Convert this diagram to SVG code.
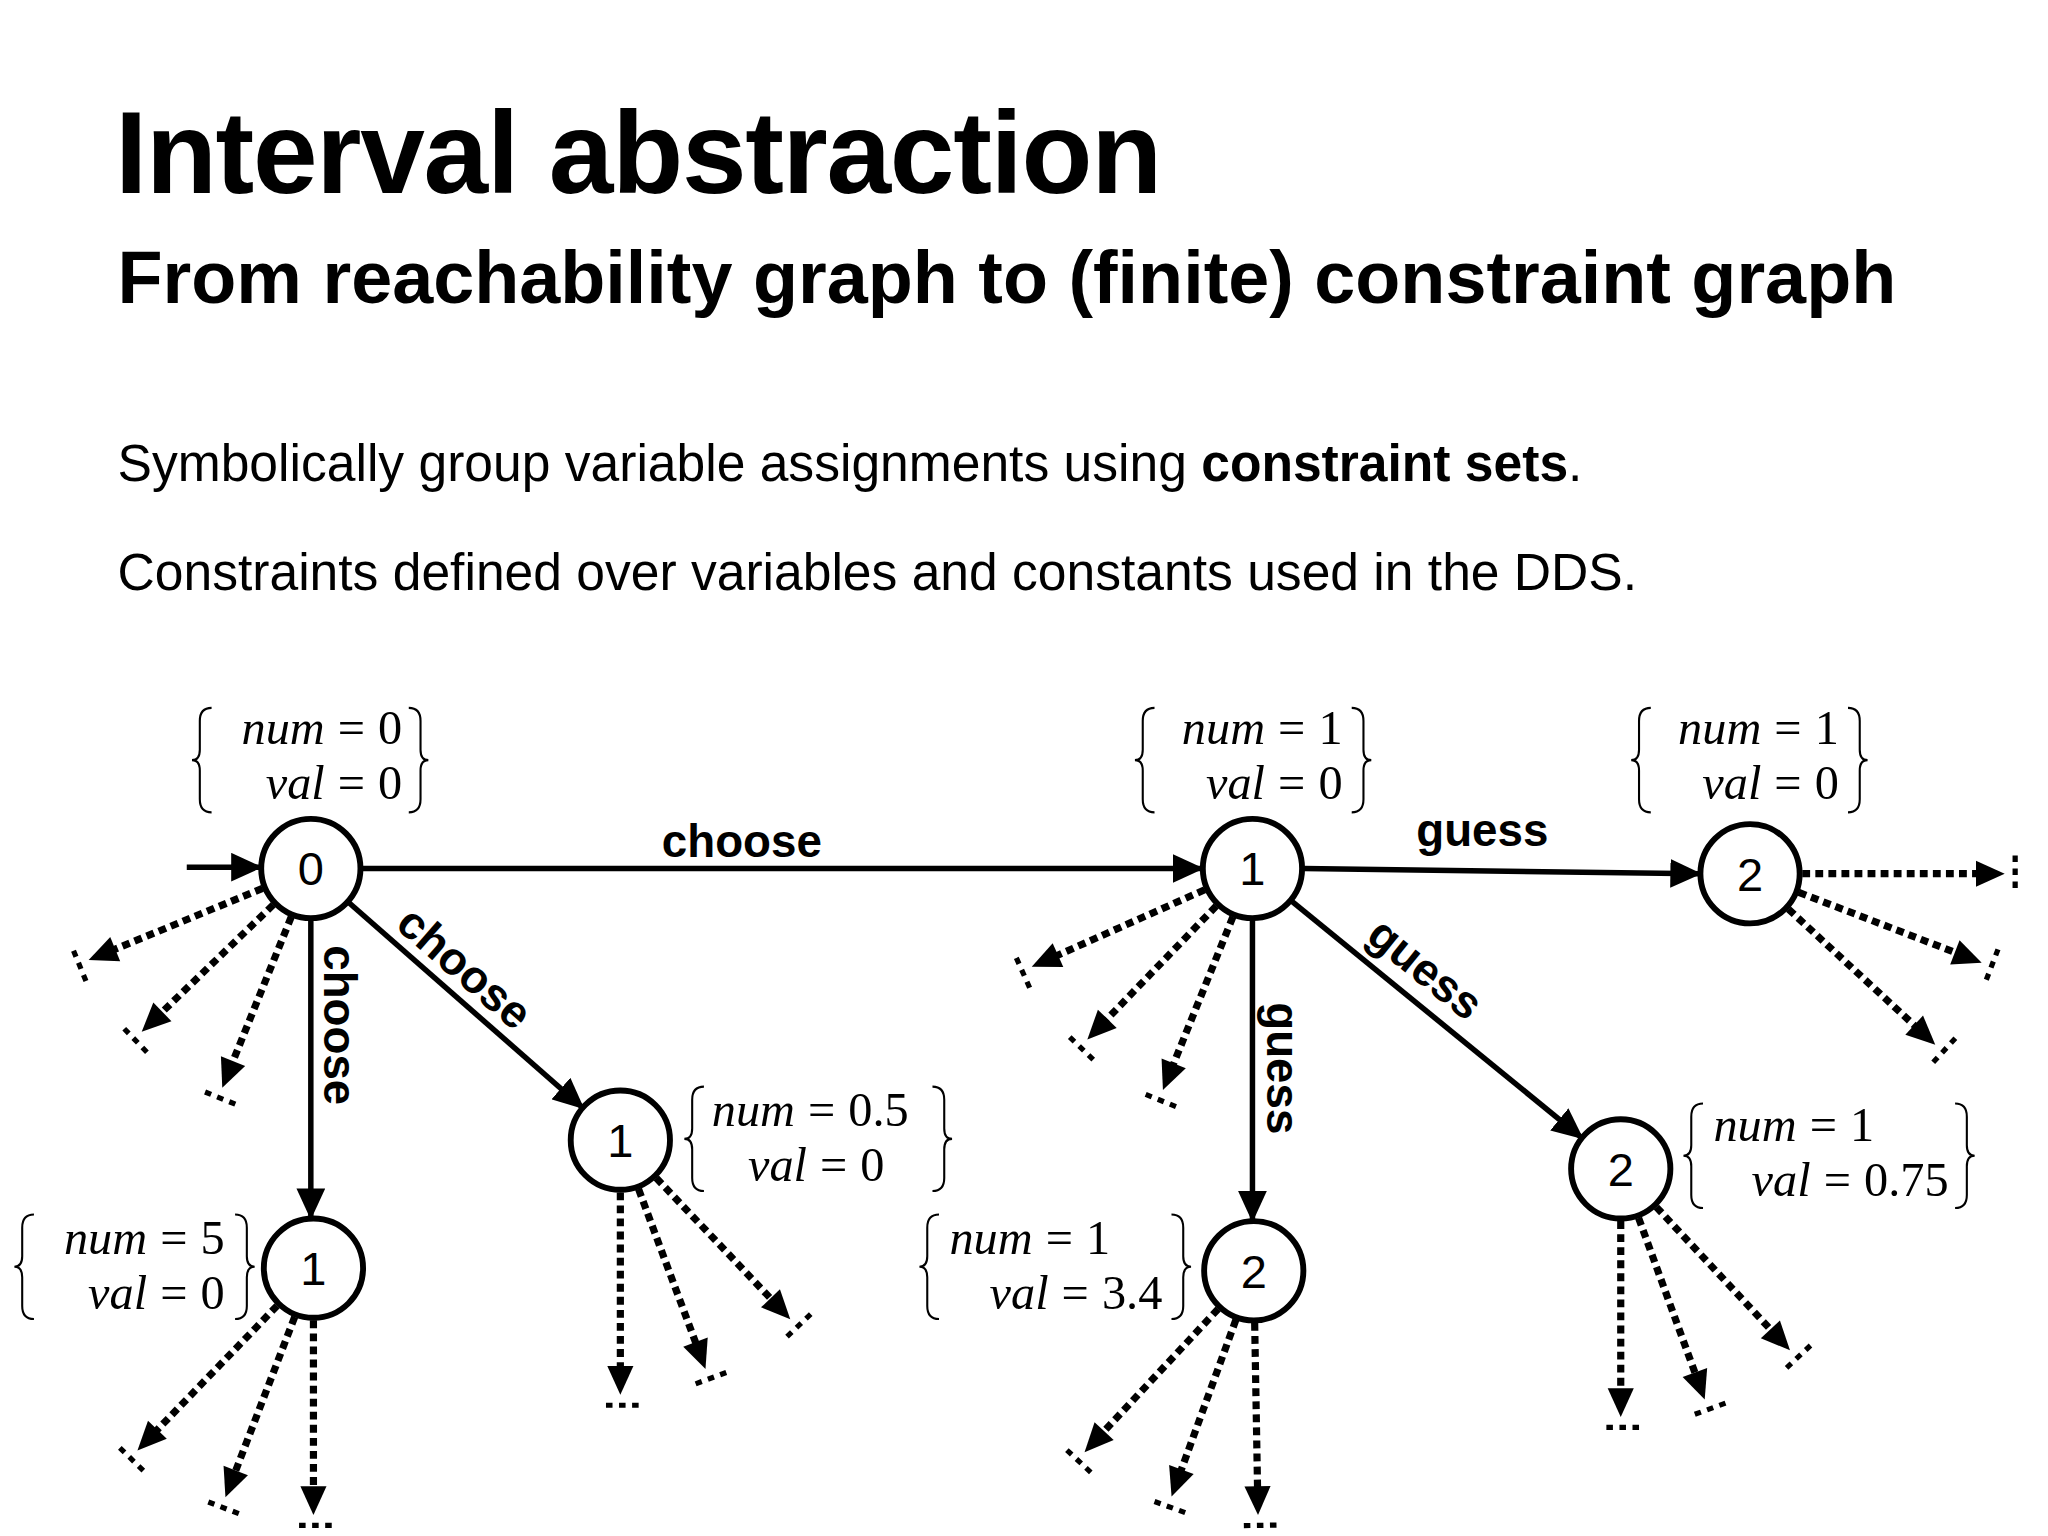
<svg xmlns="http://www.w3.org/2000/svg" width="2048" height="1536" viewBox="0 0 2048 1536">
<defs>
<style>
.t{font-family:"Liberation Sans",Arial,sans-serif;fill:#000}
.m{font-family:"Liberation Serif","Times New Roman",serif;font-size:37px;fill:#000}
.i{font-style:italic}
.node circle{fill:#fff;stroke:#000;stroke-width:4.5}
.node text{font-family:"Liberation Sans",Arial,sans-serif;font-size:36px;font-weight:500;text-anchor:middle;fill:#000}
.e{stroke:#000;stroke-width:4.2;fill:none}
.lbl{font-family:"Liberation Sans",Arial,sans-serif;font-weight:bold;font-size:35px;text-anchor:middle}
.d{stroke:#000;stroke-width:5.5;stroke-dasharray:6 4;fill:none}
.tk{stroke:#000;stroke-width:4;stroke-dasharray:5 5}
.br{stroke:#000;stroke-width:1.6;fill:none}
</style>
<marker id="ah" markerUnits="userSpaceOnUse" markerWidth="24" markerHeight="22" refX="22" refY="11" orient="auto"><path d="M0,0 L24,11 L0,22 Z" fill="#000"/></marker>
</defs>
<rect width="2048" height="1536" fill="#fff"/>
<g transform="scale(1.306)">
<text class="t" x="88" y="148" font-size="89" font-weight="bold" letter-spacing="-1">Interval abstraction</text>
<text class="t" x="90" y="232" font-size="56.5" font-weight="bold">From reachability graph to (finite) constraint graph</text>
<text class="t" x="90" y="368" font-size="39.5">Symbolically group variable assignments using <tspan font-weight="bold">constraint sets</tspan>.</text>
<text class="t" x="90" y="452" font-size="39.5">Constraints defined over variables and constants used in the DDS.</text>

<g id="connectors">
<line class="e" x1="143" y1="664" x2="199" y2="664" marker-end="url(#ah)"/>
<line class="e" x1="277" y1="665" x2="920" y2="665" marker-end="url(#ah)"/>
<line class="e" x1="238" y1="704" x2="238" y2="932" marker-end="url(#ah)"/>
<line class="e" x1="267" y1="691" x2="446" y2="848" marker-end="url(#ah)"/>
<line class="e" x1="998" y1="665" x2="1301" y2="669" marker-end="url(#ah)"/>
<line class="e" x1="959" y1="704" x2="959" y2="934" marker-end="url(#ah)"/>
<line class="e" x1="989" y1="690" x2="1211" y2="871" marker-end="url(#ah)"/>
<text class="lbl" x="568" y="656">choose</text>
<text class="lbl" transform="translate(248,785) rotate(90)" x="0" y="0">choose</text>
<text class="lbl" transform="translate(348,750) rotate(41)" x="0" y="0">choose</text>
<text class="lbl" x="1135" y="648">guess</text>
<text class="lbl" transform="translate(970,818) rotate(90)" x="0" y="0">guess</text>
<text class="lbl" transform="translate(1084,751) rotate(39)" x="0" y="0">guess</text>
</g>

<g id="stubs">
<g transform="translate(238,665) rotate(157.6)"><line class="d" x1="40" y1="0" x2="166" y2="0"/><path d="M184,0 L162,-10 L162,10Z"/><line class="tk" x1="192" y1="-14" x2="192" y2="14"/></g>
<g transform="translate(238,665) rotate(136)"><line class="d" x1="40" y1="0" x2="162" y2="0"/><path d="M180,0 L158,-10 L158,10Z"/><line class="tk" x1="188" y1="-14" x2="188" y2="14"/></g>
<g transform="translate(238,665) rotate(112)"><line class="d" x1="40" y1="0" x2="163" y2="0"/><path d="M181,0 L159,-10 L159,10Z"/><line class="tk" x1="189" y1="-14" x2="189" y2="14"/></g>

<g transform="translate(959,665) rotate(156)"><line class="d" x1="40" y1="0" x2="167" y2="0"/><path d="M185,0 L163,-10 L163,10Z"/><line class="tk" x1="193" y1="-14" x2="193" y2="14"/></g>
<g transform="translate(959,665) rotate(134)"><line class="d" x1="40" y1="0" x2="164" y2="0"/><path d="M182,0 L160,-10 L160,10Z"/><line class="tk" x1="190" y1="-14" x2="190" y2="14"/></g>
<g transform="translate(959,665) rotate(112)"><line class="d" x1="40" y1="0" x2="165" y2="0"/><path d="M183,0 L161,-10 L161,10Z"/><line class="tk" x1="191" y1="-14" x2="191" y2="14"/></g>

<g transform="translate(1340,669) rotate(0)"><line class="d" x1="40" y1="0" x2="177" y2="0"/><path d="M195,0 L173,-10 L173,10Z"/><line class="tk" x1="203" y1="-14" x2="203" y2="14"/></g>
<g transform="translate(1340,669) rotate(21)"><line class="d" x1="40" y1="0" x2="172" y2="0"/><path d="M190,0 L168,-10 L168,10Z"/><line class="tk" x1="198" y1="-14" x2="198" y2="14"/></g>
<g transform="translate(1340,669) rotate(42.7)"><line class="d" x1="40" y1="0" x2="175" y2="0"/><path d="M193,0 L171,-10 L171,10Z"/><line class="tk" x1="201" y1="-14" x2="201" y2="14"/></g>

<g transform="translate(475,873) rotate(90)"><line class="d" x1="40" y1="0" x2="177" y2="0"/><path d="M195,0 L173,-10 L173,10Z"/><line class="tk" x1="203" y1="-14" x2="203" y2="14"/></g>
<g transform="translate(475,873) rotate(69.6)"><line class="d" x1="40" y1="0" x2="169" y2="0"/><path d="M187,0 L165,-10 L165,10Z"/><line class="tk" x1="195" y1="-14" x2="195" y2="14"/></g>
<g transform="translate(475,873) rotate(46.5)"><line class="d" x1="40" y1="0" x2="171" y2="0"/><path d="M189,0 L167,-10 L167,10Z"/><line class="tk" x1="197" y1="-14" x2="197" y2="14"/></g>

<g transform="translate(240,971) rotate(134)"><line class="d" x1="40" y1="0" x2="176" y2="0"/><path d="M194,0 L172,-10 L172,10Z"/><line class="tk" x1="202" y1="-14" x2="202" y2="14"/></g>
<g transform="translate(240,971) rotate(111)"><line class="d" x1="40" y1="0" x2="170" y2="0"/><path d="M188,0 L166,-10 L166,10Z"/><line class="tk" x1="196" y1="-14" x2="196" y2="14"/></g>
<g transform="translate(240,971) rotate(90)"><line class="d" x1="40" y1="0" x2="171" y2="0"/><path d="M189,0 L167,-10 L167,10Z"/><line class="tk" x1="197" y1="-14" x2="197" y2="14"/></g>

<g transform="translate(960,973) rotate(133)"><line class="d" x1="40" y1="0" x2="172" y2="0"/><path d="M190,0 L168,-10 L168,10Z"/><line class="tk" x1="198" y1="-14" x2="198" y2="14"/></g>
<g transform="translate(960,973) rotate(110)"><line class="d" x1="40" y1="0" x2="166" y2="0"/><path d="M184,0 L162,-10 L162,10Z"/><line class="tk" x1="192" y1="-14" x2="192" y2="14"/></g>
<g transform="translate(960,973) rotate(89)"><line class="d" x1="40" y1="0" x2="169" y2="0"/><path d="M187,0 L165,-10 L165,10Z"/><line class="tk" x1="195" y1="-14" x2="195" y2="14"/></g>

<g transform="translate(1241,895) rotate(90)"><line class="d" x1="40" y1="0" x2="172" y2="0"/><path d="M190,0 L168,-10 L168,10Z"/><line class="tk" x1="198" y1="-14" x2="198" y2="14"/></g>
<g transform="translate(1241,895) rotate(70)"><line class="d" x1="40" y1="0" x2="170" y2="0"/><path d="M188,0 L166,-10 L166,10Z"/><line class="tk" x1="196" y1="-14" x2="196" y2="14"/></g>
<g transform="translate(1241,895) rotate(47)"><line class="d" x1="40" y1="0" x2="172" y2="0"/><path d="M190,0 L168,-10 L168,10Z"/><line class="tk" x1="198" y1="-14" x2="198" y2="14"/></g>
</g>

<g id="n0" class="node"><circle cx="238" cy="665" r="38"/><text x="238" y="678">0</text></g>
<g id="n1a" class="node"><circle cx="959" cy="665" r="38"/><text x="959" y="678">1</text></g>
<g id="n2a" class="node"><circle cx="1340" cy="669" r="38"/><text x="1340" y="682">2</text></g>
<g id="n1b" class="node"><circle cx="475" cy="873" r="38"/><text x="475" y="886">1</text></g>
<g id="n1c" class="node"><circle cx="240" cy="971" r="38"/><text x="240" y="984">1</text></g>
<g id="n2b" class="node"><circle cx="960" cy="973" r="38"/><text x="960" y="986">2</text></g>
<g id="n2c" class="node"><circle cx="1241" cy="895" r="38"/><text x="1241" y="908">2</text></g>

<g id="sets">
<path class="br" d="M162,542 Q153,542 153,552 L153,574 Q153,582 147,582 Q153,582 153,590 L153,612 Q153,622 162,622"/>
<path class="br" d="M313,542 Q322,542 322,552 L322,574 Q322,582 328,582 Q322,582 322,590 L322,612 Q322,622 313,622"/>
<text class="m" x="308" y="570" text-anchor="end"><tspan class="i">num</tspan><tspan dx="10">=</tspan><tspan dx="10">0</tspan></text>
<text class="m" x="308" y="612" text-anchor="end"><tspan class="i">val</tspan><tspan dx="10">=</tspan><tspan dx="10">0</tspan></text>

<path class="br" d="M884,542 Q875,542 875,552 L875,574 Q875,582 869,582 Q875,582 875,590 L875,612 Q875,622 884,622"/>
<path class="br" d="M1035,542 Q1044,542 1044,552 L1044,574 Q1044,582 1050,582 Q1044,582 1044,590 L1044,612 Q1044,622 1035,622"/>
<text class="m" x="1028" y="570" text-anchor="end"><tspan class="i">num</tspan><tspan dx="10">=</tspan><tspan dx="10">1</tspan></text>
<text class="m" x="1028" y="612" text-anchor="end"><tspan class="i">val</tspan><tspan dx="10">=</tspan><tspan dx="10">0</tspan></text>

<path class="br" d="M1264,542 Q1255,542 1255,552 L1255,574 Q1255,582 1249,582 Q1255,582 1255,590 L1255,612 Q1255,622 1264,622"/>
<path class="br" d="M1415,542 Q1424,542 1424,552 L1424,574 Q1424,582 1430,582 Q1424,582 1424,590 L1424,612 Q1424,622 1415,622"/>
<text class="m" x="1408" y="570" text-anchor="end"><tspan class="i">num</tspan><tspan dx="10">=</tspan><tspan dx="10">1</tspan></text>
<text class="m" x="1408" y="612" text-anchor="end"><tspan class="i">val</tspan><tspan dx="10">=</tspan><tspan dx="10">0</tspan></text>

<path class="br" d="M539,832 Q530,832 530,842 L530,864 Q530,872 524,872 Q530,872 530,880 L530,902 Q530,912 539,912"/>
<path class="br" d="M714,832 Q723,832 723,842 L723,864 Q723,872 729,872 Q723,872 723,880 L723,902 Q723,912 714,912"/>
<text class="m" x="545" y="862"><tspan class="i">num</tspan><tspan dx="10">=</tspan><tspan dx="10">0.5</tspan></text>
<text class="m" x="625" y="904" text-anchor="middle"><tspan class="i">val</tspan><tspan dx="10">=</tspan><tspan dx="10">0</tspan></text>

<path class="br" d="M26,930 Q17,930 17,940 L17,962 Q17,970 11,970 Q17,970 17,978 L17,1000 Q17,1010 26,1010"/>
<path class="br" d="M180,930 Q189,930 189,940 L189,962 Q189,970 195,970 Q189,970 189,978 L189,1000 Q189,1010 180,1010"/>
<text class="m" x="172" y="960" text-anchor="end"><tspan class="i">num</tspan><tspan dx="10">=</tspan><tspan dx="10">5</tspan></text>
<text class="m" x="172" y="1002" text-anchor="end"><tspan class="i">val</tspan><tspan dx="10">=</tspan><tspan dx="10">0</tspan></text>

<path class="br" d="M719,930 Q710,930 710,940 L710,962 Q710,970 704,970 Q710,970 710,978 L710,1000 Q710,1010 719,1010"/>
<path class="br" d="M897,930 Q906,930 906,940 L906,962 Q906,970 912,970 Q906,970 906,978 L906,1000 Q906,1010 897,1010"/>
<text class="m" x="727" y="960"><tspan class="i">num</tspan><tspan dx="10">=</tspan><tspan dx="10">1</tspan></text>
<text class="m" x="890" y="1002" text-anchor="end"><tspan class="i">val</tspan><tspan dx="10">=</tspan><tspan dx="10">3.4</tspan></text>

<path class="br" d="M1304,845 Q1295,845 1295,855 L1295,877 Q1295,885 1289,885 Q1295,885 1295,893 L1295,915 Q1295,925 1304,925"/>
<path class="br" d="M1497,845 Q1506,845 1506,855 L1506,877 Q1506,885 1512,885 Q1506,885 1506,893 L1506,915 Q1506,925 1497,925"/>
<text class="m" x="1312" y="874"><tspan class="i">num</tspan><tspan dx="10">=</tspan><tspan dx="10">1</tspan></text>
<text class="m" x="1492" y="916" text-anchor="end"><tspan class="i">val</tspan><tspan dx="10">=</tspan><tspan dx="10">0.75</tspan></text>
</g>
</g>
</svg>
